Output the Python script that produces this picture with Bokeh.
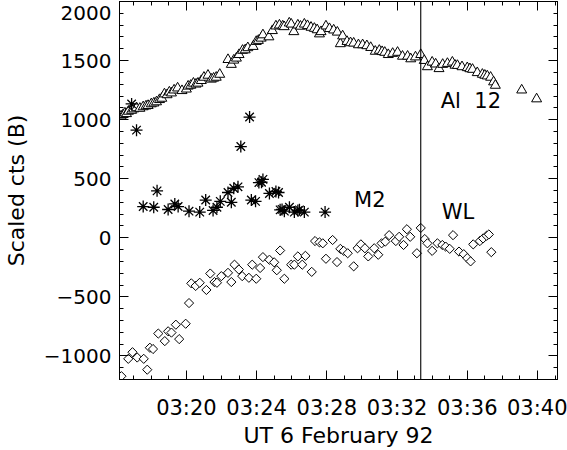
from bokeh.plotting import figure
from bokeh.models import (Range1d, FixedTicker, LinearAxis, Span, Label)
from bokeh.embed import file_html
from bokeh.resources import INLINE
import math

# ---------------- data (minutes after 03:00 UT, scaled counts) ----------------
al12_t = [16.28, 16.40, 16.50, 16.59, 16.70, 16.88, 17.00, 17.16, 17.35, 17.54,
          17.70, 17.82, 18.00, 18.15, 18.30, 18.47, 18.60, 18.75, 18.90, 19.03,
          19.15, 19.30, 19.50, 19.75, 20.00, 20.10, 20.25, 20.40, 20.55, 20.66,
          20.85, 21.00, 21.23, 21.42, 21.55, 21.70, 21.90, 22.37, 22.56, 22.70,
          22.85, 23.00, 23.20, 23.35, 23.50, 23.80, 23.98, 24.10, 24.26, 24.36,
          24.70, 24.90, 25.10, 25.30, 25.49, 25.57, 25.86, 25.97, 26.12, 26.35,
          26.50, 26.72, 26.90, 27.10, 27.29, 27.45, 27.58, 27.67, 27.95, 28.15,
          28.39, 28.60, 28.77, 28.90, 29.15, 29.35, 29.53, 29.80, 30.04, 30.28,
          30.50, 30.76, 30.99, 31.15, 31.30, 31.50, 31.75, 32.03, 32.31, 32.60,
          32.78, 33.05, 33.35, 33.55, 33.73, 34.00, 34.20, 34.39, 34.60, 34.87,
          35.15, 35.30, 35.44, 35.70, 36.00, 36.15, 36.30, 36.57, 36.86, 37.00,
          37.14, 37.33, 37.50, 37.60, 39.10, 39.95]
al12_v = [1030, 1042, 1055, 1050, 1070, 1078, 1090, 1100, 1095, 1108,
          1115, 1119, 1133, 1140, 1150, 1169, 1180, 1217, 1210, 1233,
          1225, 1250, 1267, 1245, 1258, 1283, 1290, 1308, 1300, 1308,
          1330, 1358, 1375, 1342, 1350, 1358, 1383, 1508, 1467, 1503,
          1520, 1550, 1586, 1590, 1608, 1619, 1661, 1670, 1689, 1717,
          1700, 1753, 1792, 1800, 1792, 1786, 1817, 1808, 1744, 1800,
          1790, 1808, 1795, 1781, 1772, 1760, 1725, 1744, 1792, 1770,
          1758, 1740, 1642, 1708, 1661, 1650, 1647, 1633, 1633, 1625,
          1610, 1578, 1586, 1575, 1569, 1550, 1560, 1569, 1536, 1536,
          1514, 1530, 1550, 1500, 1447, 1486, 1470, 1431, 1467, 1475,
          1486, 1460, 1458, 1447, 1439, 1430, 1425, 1397, 1383, 1375,
          1369, 1358, 1319, 1290, 1250, 1175]

m2_t = [16.88, 17.16, 17.54, 18.14, 18.33, 18.96, 19.34, 19.53, 20.15, 20.76,
        21.10, 21.52, 21.74, 21.93, 22.37, 22.56, 22.70, 22.94, 23.10, 23.60,
        23.70, 23.94, 24.13, 24.28, 24.36, 24.73, 25.10, 25.25, 25.34, 25.45,
        25.58, 25.87, 26.15, 26.35, 26.44, 26.72, 27.90]
m2_v = [1133, 911, 264, 258, 397, 239, 286, 264, 225, 217,
        319, 231, 258, 308, 383, 300, 419, 431, 772, 1022,
        319, 308, 467, 470, 494, 375, 392, 383, 236, 240,
        225, 258, 217, 230, 236, 217, 217]

wl_t = [16.30, 16.69, 16.93, 17.20, 17.57, 17.77, 17.92, 18.10, 18.40, 18.77,
        18.96, 19.15, 19.40, 19.59, 19.96, 20.15, 20.28, 20.53, 20.76, 21.14,
        21.36, 21.60, 21.74, 21.99, 22.37, 22.56, 22.74, 22.99, 23.18, 23.56,
        23.75, 23.98, 24.20, 24.36, 24.73, 25.00, 25.15, 25.34, 25.58, 25.97,
        26.15, 26.35, 26.60, 26.78, 27.14, 27.33, 27.58, 27.77, 27.95, 28.33,
        28.58, 28.77, 28.96, 29.19, 29.53, 29.75, 29.94, 30.17, 30.36, 30.70,
        30.93, 31.12, 31.33, 31.55, 31.93, 32.12, 32.37, 32.56, 32.75, 33.13,
        33.35, 33.58, 33.73, 34.00, 34.30, 34.58, 34.77, 35.00, 35.19, 35.53,
        35.80, 36.00, 36.19, 36.34, 36.72, 36.90, 37.10, 37.23, 37.37]
wl_v = [-1172, -1025, -969, -1014, -1025, -1117, -931, -942, -811, -875,
        -792, -803, -736, -858, -728, -553, -386, -408, -381, -442,
        -303, -375, -381, -325, -297, -375, -228, -269, -325, -339,
        -228, -347, -256, -164, -186, -208, -275, -108, -347, -228,
        -228, -158, -228, -153, -289, -28, -39, -47, -178, -19,
        -206, -94, -111, -131, -242, -89, -56, -89, -158, -89,
        -144, -47, -33, 22, -28, 8, -61, 72, 8, -131,
        83, -11, -47, -111, -47, -61, -75, -94, 22, -117,
        -139, -172, -200, -56, -28, -6, 17, 28, -122]

event_time = 33.35

x_tick_values = [20, 24, 28, 32, 36, 40]
x_tick_labels = ["03:20", "03:24", "03:28", "03:32", "03:36", "03:40"]
x_minor = list(range(17, 42))
y_tick_values = [-1000, -500, 0, 500, 1000, 1500, 2000]
y_tick_labels = ["\u22121000", "\u2212500", "0", "500", "1000", "1500", "2000"]
y_minor = list(range(-1200, 2001, 100))

X0, X1 = 16.19, 41.14
Y0, Y1 = -1200, 2000

FONT = "DejaVu Sans"

p = figure(width=567, height=450, output_backend="svg", toolbar_location=None,
           x_range=Range1d(X0, X1), y_range=Range1d(Y0, Y1),
           min_border_left=118, min_border_right=10, min_border_top=1,
           min_border_bottom=65)
p.grid.visible = False
p.outline_line_color = "black"
p.background_fill_color = "white"
p.border_fill_color = "white"

def style_axis(ax, ticks, minor, show_labels, fs="20px"):
    ax.ticker = FixedTicker(ticks=ticks, minor_ticks=minor)
    ax.major_tick_in = 9
    ax.major_tick_out = 0
    ax.minor_tick_in = 4
    ax.minor_tick_out = 0
    ax.axis_line_color = "black"
    ax.major_tick_line_color = "black"
    ax.minor_tick_line_color = "black"
    ax.major_label_text_font = FONT
    ax.axis_label_text_font = FONT
    ax.axis_label_text_font_style = "normal"
    ax.axis_label_text_color = "black"
    if not show_labels:
        ax.major_label_text_font_size = "0px"
        ax.major_label_text_color = None
        ax.major_label_standoff = 0
    else:
        ax.major_label_text_color = "black"
        ax.major_label_text_font_size = fs
        ax.axis_label_text_font_size = "22px"

# bottom axis
xa = p.xaxis[0]
style_axis(xa, x_tick_values, x_minor, True, "21px")
xa.major_label_overrides = {v: l for v, l in zip(x_tick_values, x_tick_labels)}
xa.major_label_standoff = 16
xa.axis_label = "UT 6 February 92"
xa.axis_label_standoff = 0

# left axis; the top label is written as two lines so it hangs below its tick
ya = p.yaxis[0]
style_axis(ya, y_tick_values, y_minor, True)
ya_over = {v: l for v, l in zip(y_tick_values, y_tick_labels)}
ya_over[Y1] = y_tick_labels[-1] + "\n"
ya.major_label_overrides = ya_over
ya.major_label_text_line_height = 1.0
ya.major_label_standoff = 8
ya.axis_label = "Scaled cts (B)"
ya.axis_label_text_line_height = 1.0
ya.axis_label_standoff = 12

# mirrored tick axes
top = LinearAxis()
style_axis(top, x_tick_values, x_minor, False)
p.add_layout(top, "above")
right = LinearAxis()
style_axis(right, y_tick_values, y_minor, False)
p.add_layout(right, "right")

# data
p.scatter(al12_t, al12_v, marker="triangle", size=10, fill_color="white",
          line_color="black", line_width=1)
p.scatter(m2_t, m2_v, marker="asterisk", size=12, line_color="black", line_width=1.3)
p.scatter(wl_t, wl_v, marker="square", size=6.5, angle=math.pi / 4,
          fill_color="white", line_color="black", line_width=1)

p.add_layout(Span(location=event_time, dimension="height", line_color="black",
                  line_width=1.1))

for txt, tx, ty in [("Al\u00a0\u00a012", 34.49, 1158), ("M2", 29.55, 317), ("WL", 34.55, 217)]:
    p.add_layout(Label(x=tx, y=ty, text=txt, text_align="left", text_baseline="middle",
                       text_font=FONT, text_font_size="21px", text_color="black"))

open("out.html", "w").write(file_html(p, INLINE))
